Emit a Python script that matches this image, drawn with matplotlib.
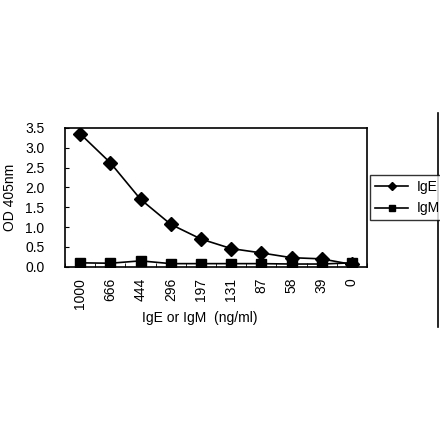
import matplotlib.pyplot as plt
import numpy as np
from matplotlib.lines import Line2D

plt.rcParams['font.family'] = ['Liberation Sans', 'DejaVu Sans']

conc = ['1000', '666', '444', '296', '197', '131', '87', '58', '39', '0']
ige = [3.35, 2.62, 1.70, 1.07, 0.70, 0.46, 0.35, 0.23, 0.20, 0.06]
igm = [0.10, 0.09, 0.15, 0.08, 0.08, 0.08, 0.08, 0.07, 0.07, 0.10]

fig = plt.figure(figsize=(4.4, 4.41), dpi=100)
ax = fig.add_axes([0.148, 0.395, 0.686, 0.315])
x = np.arange(len(conc))
ax.plot(x, ige, color='black', lw=1.2, marker='D', ms=7, label='IgE')
ax.plot(x, igm, color='black', lw=1.2, marker='s', ms=6.5, label='IgM')

ax.set_xlim(-0.5, len(conc) - 0.5)
ax.set_ylim(0, 3.5)
yt = np.arange(0, 3.51, 0.5)
ax.set_yticks(yt)
ax.set_yticklabels([f'{v:.1f}' for v in yt], fontsize=10)
ax.set_xticks(x)
ax.set_xticklabels(conc, rotation=90, fontsize=10)
ax.set_xticks(np.arange(-0.5, len(conc), 1), minor=True)
ax.tick_params(axis='x', which='major', length=0, pad=8)
ax.tick_params(axis='x', which='minor', direction='in', length=3)
ax.tick_params(axis='y', direction='in', length=3, pad=15)
ax.set_ylabel('OD 405nm', fontsize=10)
ax.yaxis.set_label_coords(-0.159, 0.5)
ax.set_xlabel('IgE or IgM  (ng/ml)', fontsize=10)
ax.xaxis.set_label_coords(0.447, -0.32)
for s in ax.spines.values():
    s.set_linewidth(1.2)

h, l = ax.get_legend_handles_labels()
leg = fig.legend(h, l, loc='upper left', bbox_to_anchor=(370 / 440, 1 - 175 / 441),
                 borderaxespad=0, fontsize=10, frameon=True, fancybox=False,
                 edgecolor='black', handlelength=2.4, handletextpad=0.6,
                 labelspacing=0.55, markerscale=0.6, borderpad=0.35)
leg.get_frame().set_linewidth(1.0)

fig.add_artist(Line2D([438 / 440, 438 / 440], [1 - 113 / 441, 1 - 327 / 441],
                      color='black', lw=1.2))

fig.savefig('out.png', dpi=100)
